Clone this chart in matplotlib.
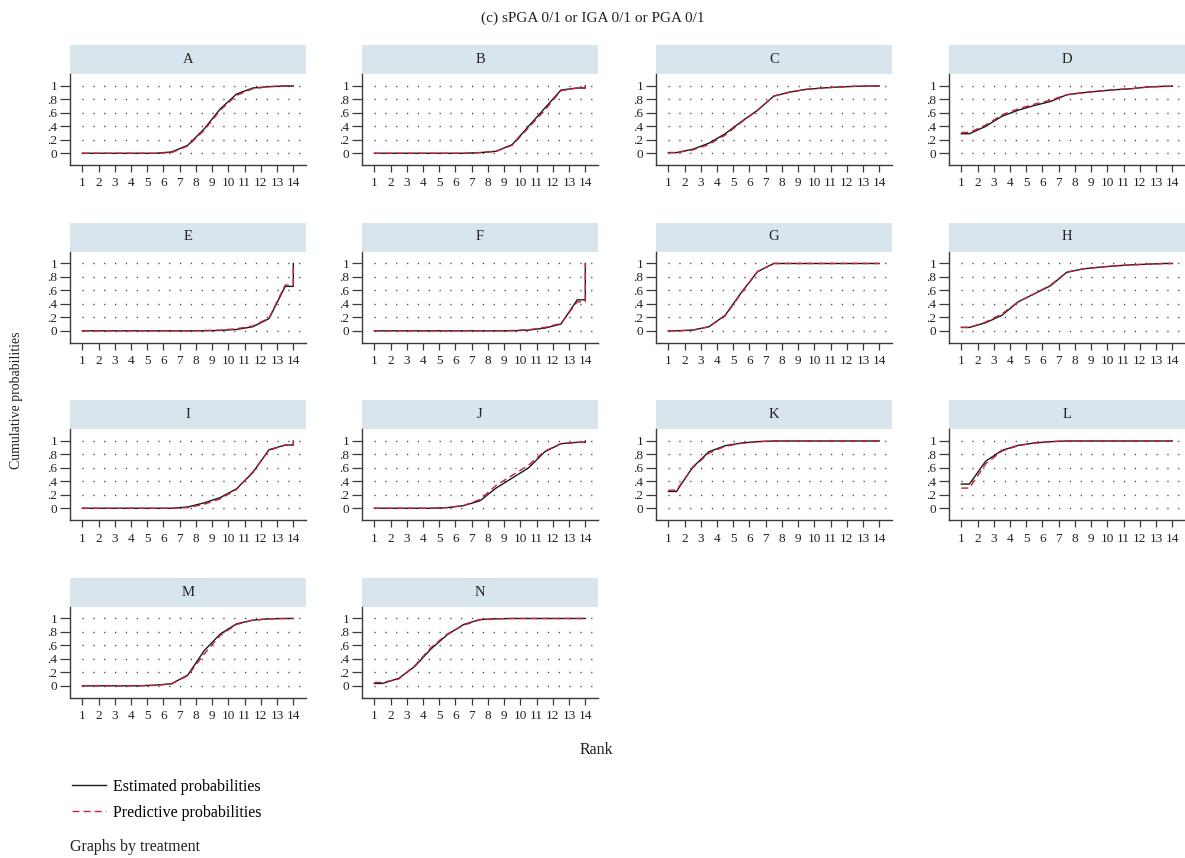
import matplotlib.pyplot as plt
from matplotlib.patches import Rectangle
from matplotlib.lines import Line2D

plt.rcParams["font.family"] = ["Liberation Serif", "DejaVu Serif"]
plt.rcParams["lines.scale_dashes"] = False

# ---- data: cumulative rank probabilities, ranks 1..14 ----
treatments = ["A", "B", "C", "D", "E", "F", "G", "H", "I", "J", "K", "L", "M", "N"]
ranks = list(range(1, 15))
ytick_vals = [0, 0.2, 0.4, 0.6, 0.8, 1]
ytick_labels = ["0", ".2", ".4", ".6", ".8", "1"]

est_A = [0, 0, 0, 0, 0, 0.02, 0.12, 0.36, 0.66, 0.88, 0.97, 0.99, 1, 1]
pred_A = [0, 0, 0, 0, 0, 0.01, 0.11, 0.34, 0.64, 0.86, 0.96, 0.99, 1, 1]
est_B = [0, 0, 0, 0, 0, 0, 0.01, 0.03, 0.13, 0.40, 0.67, 0.94, 0.97, 1]
pred_B = [0, 0, 0, 0, 0, 0, 0.01, 0.03, 0.12, 0.38, 0.64, 0.93, 0.97, 1]
est_C = [0.01, 0.06, 0.15, 0.29, 0.47, 0.64, 0.85, 0.91, 0.95, 0.97, 0.985, 0.995, 1, 1]
pred_C = [0.01, 0.05, 0.13, 0.27, 0.46, 0.64, 0.85, 0.91, 0.95, 0.97, 0.985, 0.995, 1, 1]
est_D = [0.29, 0.40, 0.55, 0.64, 0.71, 0.77, 0.87, 0.90, 0.925, 0.945, 0.96, 0.985, 0.995, 1]
pred_D = [0.31, 0.42, 0.57, 0.66, 0.73, 0.79, 0.87, 0.90, 0.925, 0.945, 0.96, 0.985, 0.995, 1]
est_E = [0, 0, 0, 0, 0, 0, 0, 0, 0.005, 0.02, 0.06, 0.18, 0.66, 1]
pred_E = [0, 0, 0, 0, 0, 0, 0, 0.005, 0.01, 0.03, 0.07, 0.19, 0.68, 1]
est_F = [0, 0, 0, 0, 0, 0, 0, 0, 0, 0.01, 0.04, 0.10, 0.46, 1]
pred_F = [0, 0, 0, 0, 0, 0, 0, 0, 0.005, 0.015, 0.05, 0.11, 0.43, 1]
est_G = [0, 0.01, 0.06, 0.23, 0.57, 0.88, 1, 1, 1, 1, 1, 1, 1, 1]
pred_G = [0, 0.01, 0.06, 0.22, 0.56, 0.88, 1, 1, 1, 1, 1, 1, 1, 1]
est_H = [0.05, 0.12, 0.23, 0.43, 0.55, 0.67, 0.87, 0.92, 0.945, 0.965, 0.98, 0.99, 1, 1]
pred_H = [0.05, 0.13, 0.25, 0.43, 0.55, 0.68, 0.87, 0.92, 0.945, 0.965, 0.98, 0.99, 1, 1]
est_I = [0, 0, 0, 0, 0, 0, 0.02, 0.08, 0.16, 0.29, 0.53, 0.87, 0.94, 1]
pred_I = [0, 0, 0, 0, 0, 0, 0.01, 0.06, 0.14, 0.28, 0.54, 0.86, 0.94, 1]
est_J = [0, 0, 0, 0, 0.01, 0.04, 0.11, 0.30, 0.45, 0.60, 0.84, 0.96, 0.98, 1]
pred_J = [0, 0, 0, 0, 0.01, 0.04, 0.13, 0.34, 0.49, 0.64, 0.85, 0.96, 0.98, 1]
est_K = [0.25, 0.61, 0.84, 0.93, 0.97, 0.99, 1, 1, 1, 1, 1, 1, 1, 1]
pred_K = [0.27, 0.60, 0.82, 0.92, 0.965, 0.99, 1, 1, 1, 1, 1, 1, 1, 1]
est_L = [0.36, 0.70, 0.86, 0.935, 0.97, 0.99, 1, 1, 1, 1, 1, 1, 1, 1]
pred_L = [0.30, 0.66, 0.85, 0.93, 0.97, 0.99, 1, 1, 1, 1, 1, 1, 1, 1]
est_M = [0, 0, 0, 0, 0.01, 0.03, 0.16, 0.52, 0.77, 0.92, 0.975, 0.995, 1, 1]
pred_M = [0, 0, 0, 0, 0.005, 0.03, 0.15, 0.47, 0.75, 0.91, 0.975, 0.995, 1, 1]
est_N = [0.035, 0.11, 0.29, 0.55, 0.76, 0.91, 0.985, 0.995, 1, 1, 1, 1, 1, 1]
pred_N = [0.05, 0.10, 0.30, 0.57, 0.77, 0.90, 0.98, 0.995, 1, 1, 1, 1, 1, 1]

estimated = [est_A, est_B, est_C, est_D, est_E, est_F, est_G,
             est_H, est_I, est_J, est_K, est_L, est_M, est_N]
predictive = [pred_A, pred_B, pred_C, pred_D, pred_E, pred_F, pred_G,
              pred_H, pred_I, pred_J, pred_K, pred_L, pred_M, pred_N]


def rank_path(cum):
    # value for rank k is drawn at k + 0.5, with the ends clamped to 1 and 14
    xs = [ranks[0]] + [r + 0.5 for r in ranks[:-1]] + [ranks[-1], ranks[-1]]
    ys = [cum[0]] + cum[:-1] + [cum[-2], cum[-1]]
    return xs, ys


W, H = 1185, 858
fig = plt.figure(figsize=(W / 100, H / 100), dpi=100)

col_left = [70, 362, 656, 949]
row_bottom = [165, 342.5, 520, 697.5]
ax_w, ax_h, strip_h = 236, 91, 29

black = "#1a1a1a"
red = "#c8203c"
axis_col = "#3a3a3a"
txt = "#222222"

for i, (name, e, p) in enumerate(zip(treatments, estimated, predictive)):
    r, c = divmod(i, 4)
    ax = fig.add_axes([col_left[c] / W, 1 - row_bottom[r] / H, ax_w / W, ax_h / H])
    ax.set_xlim(0.24, 14.78)
    ax.set_ylim(-0.174, 1.178)

    ax.hlines(ytick_vals, 1.0, 14.45, colors="#444444", linewidth=1.0,
              linestyles=(0, (0.9, 6.9)))

    xe, ye = rank_path(e)
    xp, yp = rank_path(p)
    ax.plot(xe, ye, color=black, linewidth=1.0, solid_joinstyle="miter")
    ax.plot(xp, yp, color=red, linewidth=1.0, linestyle=(0, (5, 3)))

    for s in ["top", "right"]:
        ax.spines[s].set_visible(False)
    for s in ["left", "bottom"]:
        ax.spines[s].set_color(axis_col)
        ax.spines[s].set_linewidth(1.0)

    ax.set_xticks(ranks)
    ax.set_xticklabels([str(v) for v in ranks])
    ax.set_yticks(ytick_vals)
    ax.set_yticklabels(ytick_labels)
    ax.tick_params(axis="x", length=5, width=0.9, pad=4, labelsize=9.5,
                   color=axis_col, labelcolor=txt)
    ax.tick_params(axis="y", length=7, width=0.9, pad=2, labelsize=9.5,
                   color=axis_col, labelcolor=txt)

    # strip header
    ax.add_patch(Rectangle((0, 1), 1, strip_h / ax_h, transform=ax.transAxes,
                           facecolor="#d8e5ec", edgecolor="none", clip_on=False))
    ax.text(0.5, 1 + strip_h / ax_h / 2, name, transform=ax.transAxes,
            ha="center", va="center", fontsize=10.5, color=txt)

fig.text(0.5, 1 - 18 / H, "(c) sPGA 0/1 or IGA 0/1 or PGA 0/1",
         ha="center", va="center", fontsize=11, color=txt)
fig.text(17 / W, 1 - 400 / H, "Cumulative probabilities", rotation=90,
         ha="center", va="center", fontsize=10, color=txt)
fig.text(596 / W, 1 - 750 / H, "Rank", ha="center", va="center",
         fontsize=11.5, color=txt)

handles = [Line2D([], [], color=black, linewidth=1.0),
           Line2D([], [], color=red, linewidth=1.0, linestyle=(0, (5, 3)))]
fig.legend(handles, ["Estimated probabilities", "Predictive probabilities"],
           loc="upper left", bbox_to_anchor=(72 / W, 1 - 779 / H),
           frameon=False, fontsize=11.5, handlelength=2.1, handletextpad=0.45,
           labelspacing=0.6, borderpad=0, borderaxespad=0)

fig.text(70 / W, 1 - 847 / H, "Graphs by treatment", ha="left", va="center",
         fontsize=11.5, color=txt)

fig.savefig("out.png", dpi=100, facecolor="white")
